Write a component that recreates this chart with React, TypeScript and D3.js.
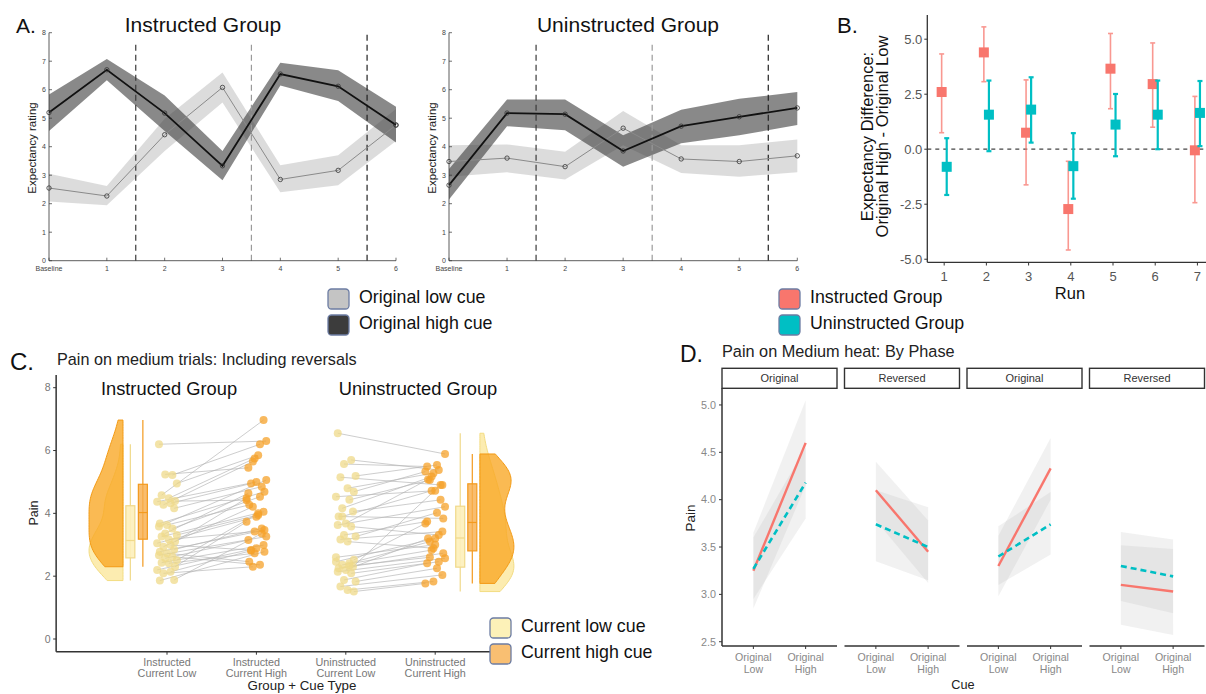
import React from "react";
import * as d3 from "d3";

const FONT = "'Liberation Sans', Arial, Helvetica, sans-serif";

// ---------------- Panel A data ----------------
const runLabels = ["Baseline", "1", "2", "3", "4", "5", "6"];
const aTicks = [0, 1, 2, 3, 4, 5, 6, 7, 8];
const dividerRuns = [1.5, 3.5, 5.5];
const dividerTops = [7.65, 7.65, 8];
const dividerColors = ["#3a3a3a", "#9a9a9a", "#222222"];

const instrHigh = [5.2, 6.7, 5.18, 3.33, 6.55, 6.12, 4.76];
const instrHighLo = [4.55, 6.33, 4.55, 2.82, 6.15, 5.6, 4.15];
const instrHighHi = [5.83, 7.08, 5.8, 3.85, 6.95, 6.68, 5.4];
const instrLow = [2.55, 2.27, 4.42, 6.08, 2.85, 3.17, 4.76];
const instrLowLo = [2.08, 1.95, 3.85, 5.55, 2.4, 2.65, 4.2];
const instrLowHi = [3.05, 2.62, 4.98, 6.6, 3.35, 3.7, 5.32];

const uninstrHigh = [2.65, 5.18, 5.14, 3.85, 4.72, 5.05, 5.36];
const uninstrHighLo = [2.15, 4.72, 4.58, 3.3, 4.12, 4.4, 4.76];
const uninstrHighHi = [3.22, 5.66, 5.66, 4.4, 5.3, 5.68, 5.92];
const uninstrLow = [3.48, 3.6, 3.3, 4.65, 3.57, 3.48, 3.68];
const uninstrLowLo = [2.95, 3.1, 2.85, 4.05, 3.08, 2.95, 3.1];
const uninstrLowHi = [4.05, 4.08, 3.82, 5.25, 4.05, 4.05, 4.25];

// ---------------- Panel B data ----------------
const runs = [1, 2, 3, 4, 5, 6, 7];
const bTicks = [-5, -2.5, 0, 2.5, 5];
const bInstr = [2.6, 4.4, 0.75, -2.72, 3.66, 2.96, -0.05];
const bInstrLo = [0.75, 3.07, -1.62, -4.58, 1.84, 1.0, -2.43];
const bInstrHi = [4.33, 5.56, 3.15, -0.55, 5.26, 4.83, 2.4];
const bUninstr = [-0.8, 1.57, 1.8, -0.77, 1.12, 1.57, 1.65];
const bUninstrLo = [-2.08, -0.09, 0.3, -2.25, -0.32, 0.0, 0.14];
const bUninstrHi = [0.5, 3.12, 3.27, 0.73, 2.51, 3.12, 3.1];

// ---------------- Panel C data ----------------
const cCategories = [
  ["Instructed", "Current Low"],
  ["Instructed", "Current High"],
  ["Uninstructed", "Current Low"],
  ["Uninstructed", "Current High"],
];
const cTicks = [0, 2, 4, 6, 8];
const instrLowPain = [6.2, 5.22, 5.24, 4.95, 4.58, 4.48, 4.39, 4.37, 4.32, 4.27, 4.16, 3.68, 3.63, 3.58, 3.52, 3.36, 3.31, 3.26, 3.17, 3.1, 3.05, 2.99, 2.94, 2.85, 2.78, 2.73, 2.67, 2.62, 2.57, 2.51, 2.43, 2.41, 2.3, 2.2, 2.14, 2.09, 1.88, 1.86];
const instrHighPain = [6.3, 6.2, 5.45, 5.85, 6.97, 5.75, 4.42, 5.0, 4.95, 5.65, 4.85, 4.69, 4.27, 5.06, 4.53, 4.64, 3.95, 4.05, 3.42, 4.48, 3.89, 2.83, 4.21, 3.52, 3.47, 2.46, 3.26, 2.36, 3.15, 4.0, 2.99, 2.73, 3.73, 2.89, 2.81, 2.3, 3.36, 2.78];
const uninstrLowPain = [6.55, 5.7, 5.57, 5.19, 5.15, 4.8, 4.69, 4.53, 4.43, 4.16, 4.06, 3.9, 3.68, 3.63, 3.58, 3.31, 3.26, 3.17, 3.1, 2.52, 2.46, 2.41, 2.36, 2.3, 2.25, 2.2, 2.14, 2.09, 1.88, 1.83, 1.67, 1.56, 1.51, 2.6, 2.33, 3.9];
const uninstrHighPain = [5.89, 5.38, 5.49, 5.54, 4.9, 5.28, 5.33, 4.72, 5.06, 5.17, 4.43, 3.84, 5.08, 4.21, 3.31, 3.74, 4.02, 3.42, 2.89, 3.68, 3.2, 3.1, 2.83, 4.9, 2.73, 3.2, 2.57, 2.46, 2.41, 2.25, 2.04, 1.83, 1.77, 3.0, 2.6, 4.72];
const jitterPattern = [-0.09, 0.06, -0.02, 0.11, -0.06, 0.02, 0.09, -0.11, 0.04, -0.04, 0.08, -0.08, 0.0];

// ---------------- Panel D data ----------------
const phases = ["Original", "Reversed", "Original", "Reversed"];
const cueLevels = [["Original", "Low"], ["Original", "High"]];
const dTicks = [2.5, 3.0, 3.5, 4.0, 4.5, 5.0];
const dInstr = [[3.25, 4.6], [4.1, 3.45], [3.3, 4.33], [3.1, 3.03]];
const dInstrLo = [[2.85, 4.15], [3.78, 3.12], [2.98, 4.0], [2.68, 2.57]];
const dInstrHi = [[3.65, 5.05], [4.4, 3.78], [3.62, 4.65], [3.52, 3.48]];
const dUninstr = [[3.27, 4.18], [3.74, 3.5], [3.4, 3.74], [3.3, 3.19]];
const dUninstrLo = [[2.95, 3.8], [3.35, 3.15], [3.1, 3.42], [2.93, 2.8]];
const dUninstrHi = [[3.6, 4.55], [4.1, 3.92], [3.72, 4.08], [3.66, 3.58]];

const RED = "#F8766D";
const TEAL = "#00BFC4";

// ---------------- helpers ----------------
function kde(values: number[], n = 90) {
  const s = values.slice().sort(d3.ascending);
  const sd = d3.deviation(s) as number;
  const iqr = (d3.quantile(s, 0.75) as number) - (d3.quantile(s, 0.25) as number);
  const bw = 0.9 * Math.min(sd, iqr / 1.34) * Math.pow(s.length, -0.2);
  const lo = s[0], hi = s[s.length - 1];
  return d3.range(n + 1).map((i) => {
    const v = lo + ((hi - lo) * i) / n;
    const d = (d3.mean(s, (x) => Math.exp(-0.5 * ((v - x) / bw) ** 2)) as number) / (bw * Math.sqrt(2 * Math.PI));
    return { v, d };
  });
}

function boxStats(values: number[]) {
  const s = values.slice().sort(d3.ascending);
  const q1 = d3.quantile(s, 0.25) as number;
  const med = d3.quantile(s, 0.5) as number;
  const q3 = d3.quantile(s, 0.75) as number;
  const iqr = q3 - q1;
  const lo = d3.min(s.filter((v) => v >= q1 - 1.5 * iqr)) as number;
  const hi = d3.max(s.filter((v) => v <= q3 + 1.5 * iqr)) as number;
  return { q1, med, q3, lo, hi };
}

// ---------------- Panel A ----------------
function PanelA(props: any) {
  const { x0, x1, title, titleX, yLabelX, high, highLo, highHi, low, lowLo, lowHi } = props;
  const x = d3.scaleLinear().domain([0, runLabels.length - 1]).range([x0, x1]);
  const y = d3.scaleLinear().domain([0, 8]).range([260.7, 32.7]);
  const band = (lo: number[], hi: number[]) =>
    d3.area<number>().x((_, i) => x(i)).y0((_, i) => y(lo[i])).y1((_, i) => y(hi[i]))(lo) as string;
  const line = (v: number[]) => d3.line<number>().x((_, i) => x(i)).y((d) => y(d))(v) as string;
  return (
    <g>
      <text x={titleX} y={32} textAnchor="middle" fontSize={21} fill="#111">{title}</text>
      <text transform={`translate(${yLabelX},${148}) rotate(-90)`} textAnchor="middle" fontSize={11.5} fill="#222">Expectancy rating</text>
      <path d={band(lowLo, lowHi)} fill="#bfbfbf" opacity={0.55} />
      <path d={band(highLo, highHi)} fill="#3a3a3a" opacity={0.6} />
      {dividerRuns.map((r, i) => (
        <line key={i} x1={x(r)} x2={x(r)} y1={y(0)} y2={y(dividerTops[i])} stroke={dividerColors[i]} strokeWidth={1.2} strokeDasharray="6,4" />
      ))}
      <path d={line(low)} fill="none" stroke="#8a8a8a" strokeWidth={1} />
      {low.map((v: number, i: number) => (
        <circle key={"l" + i} cx={x(i)} cy={y(v)} r={2.2} fill="none" stroke="#333" strokeWidth={0.8} />
      ))}
      <path d={line(high)} fill="none" stroke="#111" strokeWidth={1.8} />
      {high.map((v: number, i: number) => (
        <circle key={"h" + i} cx={x(i)} cy={y(v)} r={2.2} fill="none" stroke="#333" strokeWidth={0.8} />
      ))}
      <line x1={x0} x2={x0} y1={y(0)} y2={y(8)} stroke="#333" strokeWidth={0.8} />
      <line x1={x0} x2={x1} y1={y(0)} y2={y(0)} stroke="#333" strokeWidth={0.8} />
      {aTicks.map((t) => (
        <g key={t}>
          <line x1={x0} x2={x0 + 3} y1={y(t)} y2={y(t)} stroke="#333" strokeWidth={0.7} />
          <text x={x0 - 3} y={y(t) + 2.5} textAnchor="end" fontSize={7} fill="#444">{t}</text>
        </g>
      ))}
      {runLabels.map((lab, i) => (
        <g key={lab}>
          <line x1={x(i)} x2={x(i)} y1={y(0)} y2={y(0) - 3} stroke="#333" strokeWidth={0.7} />
          <text x={x(i)} y={271} textAnchor="middle" fontSize={7} fill="#444">{lab}</text>
        </g>
      ))}
    </g>
  );
}

// ---------------- Panel B ----------------
function PanelB() {
  const x = d3.scaleLinear().domain([0.6, 7.4]).range([927.3, 1214.3]);
  const y = d3.scaleLinear().domain([-5.14, 6.1]).range([262.3, 15]);
  const dodge = 0.06;
  const series = [
    { m: bInstr, lo: bInstrLo, hi: bInstrHi, col: RED, off: -dodge, w: 1.6, op: 0.75 },
    { m: bUninstr, lo: bUninstrLo, hi: bUninstrHi, col: TEAL, off: dodge, w: 2.2, op: 1 },
  ];
  return (
    <g>
      <text x={837} y={33} fontSize={22} fill="#111">B.</text>
      <line x1={x(0.6)} x2={1206} y1={y(0)} y2={y(0)} stroke="#444" strokeWidth={1.2} strokeDasharray="4,4" />
      {series.map((s, si) => (
        <g key={si}>
          {runs.map((r, i) => {
            const cx = x(r + s.off);
            return (
              <g key={r}>
                <g stroke={s.col} strokeWidth={s.w} opacity={s.op}>
                  <line x1={cx} x2={cx} y1={y(s.lo[i])} y2={y(s.hi[i])} />
                  <line x1={cx - 2.5} x2={cx + 2.5} y1={y(s.lo[i])} y2={y(s.lo[i])} />
                  <line x1={cx - 2.5} x2={cx + 2.5} y1={y(s.hi[i])} y2={y(s.hi[i])} />
                </g>
                <rect x={cx - 5} y={y(s.m[i]) - 5} width={10} height={10} fill={s.col} />
              </g>
            );
          })}
        </g>
      ))}
      <line x1={x(0.6)} x2={x(0.6)} y1={15} y2={262.3} stroke="#333" strokeWidth={1.3} />
      <line x1={x(0.6)} x2={1206} y1={262.3} y2={262.3} stroke="#333" strokeWidth={1.3} />
      {bTicks.map((t) => (
        <g key={t}>
          <line x1={x(0.6) - 3} x2={x(0.6)} y1={y(t)} y2={y(t)} stroke="#333" strokeWidth={1} />
          <text x={x(0.6) - 5} y={y(t) + 4.5} textAnchor="end" fontSize={13} fill="#555">{t.toFixed(1)}</text>
        </g>
      ))}
      {runs.map((r) => (
        <g key={r}>
          <line x1={x(r)} x2={x(r)} y1={262.3} y2={265.5} stroke="#333" strokeWidth={1} />
          <text x={x(r)} y={281} textAnchor="middle" fontSize={13} fill="#555">{r}</text>
        </g>
      ))}
      <text x={1070} y={299} textAnchor="middle" fontSize={16.5} fill="#111">Run</text>
      <text transform={`translate(873,136.5) rotate(-90)`} textAnchor="middle" fontSize={16.5} fill="#111">Expectancy Difference:</text>
      <text transform={`translate(888,136.5) rotate(-90)`} textAnchor="middle" fontSize={16.5} fill="#111">Original High - Original Low</text>
    </g>
  );
}

// ---------------- Legends ----------------
function LegendItem({ x, y, fill, label }: any) {
  return (
    <g>
      <rect x={x} y={y} width={21} height={20} rx={3.5} fill={fill} stroke="#6c7ca3" strokeWidth={1.3} />
      <text x={x + 31} y={y + 14} fontSize={17.8} fill="#111">{label}</text>
    </g>
  );
}

// ---------------- Panel C ----------------
function PanelC() {
  const x = d3.scaleLinear().domain([1, 4]).range([167, 435.2]);
  const y = d3.scaleLinear().domain([0, 8]).range([639, 387.7]);
  const axisLeft = x(-0.24);
  const axisBottom = 651.7;
  const lowCol = "#EFD98A";
  const highCol = "#F6A12A";
  const groups = [
    { low: instrLowPain, high: instrHighPain, lx: 1, hx: 2, side: -1, flat: 0.508, boxL: 0.59, boxH: 0.73 },
    { low: uninstrLowPain, high: uninstrHighPain, lx: 3, hx: 4, side: 1, flat: 4.5, boxL: 4.28, boxH: 4.415 },
  ];
  const violinPath = (vals: number[], flatX: number, side: number) => {
    const k = kde(vals);
    const maxD = d3.max(k, (d) => d.d) as number;
    const w = d3.scaleLinear().domain([0, maxD]).range([0, 34]);
    return d3.area<any>().curve(d3.curveBasis).y((d) => y(d.v)).x0(flatX).x1((d) => flatX + side * w(d.d))(k) as string;
  };
  const Box = ({ vals, cx, fill, stroke, op }: any) => {
    const b = boxStats(vals);
    return (
      <g stroke={stroke} strokeWidth={1.2}>
        <line x1={cx} x2={cx} y1={y(b.lo)} y2={y(b.hi)} />
        <rect x={cx - 4.5} y={y(b.q3)} width={9} height={y(b.q1) - y(b.q3)} fill={fill} fillOpacity={op} />
        <line x1={cx - 4.5} x2={cx + 4.5} y1={y(b.med)} y2={y(b.med)} />
      </g>
    );
  };
  return (
    <g>
      <text x={10} y={370} fontSize={24} fill="#111">C.</text>
      <text x={57} y={365} fontSize={16.2} fill="#222">Pain on medium trials: Including reversals</text>
      <text x={169} y={395} textAnchor="middle" fontSize={18.3} fill="#111">Instructed Group</text>
      <text x={418} y={395} textAnchor="middle" fontSize={18.3} fill="#111">Uninstructed Group</text>
      {groups.map((g, gi) => (
        <g key={gi}>
          <path d={violinPath(g.low, x(g.flat), g.side)} fill="#FBE9A2" fillOpacity={0.85} stroke="#F3DC82" strokeWidth={1} />
          <path d={violinPath(g.high, x(g.flat), g.side)} fill="#F9A623" fillOpacity={0.78} stroke="#F39A14" strokeWidth={1} />
          <Box vals={g.low} cx={x(g.boxL)} fill="#FDF0BA" stroke="#F0D98A" op={0.9} />
          <Box vals={g.high} cx={x(g.boxH)} fill="#F8AC4A" stroke="#F39A1E" op={0.8} />
          {g.low.map((v, i) => (
            <line key={"c" + i}
              x1={x(g.lx + jitterPattern[i % 13])} y1={y(v)}
              x2={x(g.hx + jitterPattern[(i * 5 + 3) % 13])} y2={y(g.high[i])}
              stroke="#b5b5b5" strokeWidth={0.9} opacity={0.75} />
          ))}
          {g.low.map((v, i) => (
            <circle key={"l" + i} cx={x(g.lx + jitterPattern[i % 13])} cy={y(v)} r={4} fill={lowCol} opacity={0.75} />
          ))}
          {g.high.map((v, i) => (
            <circle key={"h" + i} cx={x(g.hx + jitterPattern[(i * 5 + 3) % 13])} cy={y(v)} r={4} fill={highCol} opacity={0.75} />
          ))}
        </g>
      ))}
      <line x1={axisLeft} x2={axisLeft} y1={375} y2={axisBottom} stroke="#333" strokeWidth={1.5} />
      <line x1={axisLeft} x2={492} y1={axisBottom} y2={axisBottom} stroke="#333" strokeWidth={1.5} />
      {cTicks.map((t) => (
        <g key={t}>
          <line x1={axisLeft - 3} x2={axisLeft} y1={y(t)} y2={y(t)} stroke="#333" strokeWidth={1} />
          <text x={axisLeft - 5.5} y={y(t) + 3.7} textAnchor="end" fontSize={10.5} fill="#777">{t}</text>
        </g>
      ))}
      {cCategories.map((c, i) => (
        <g key={i}>
          <line x1={x(i + 1)} x2={x(i + 1)} y1={axisBottom} y2={axisBottom + 3} stroke="#333" strokeWidth={1} />
          <text x={x(i + 1)} y={665.5} textAnchor="middle" fontSize={10.8} fill="#777">{c[0]}</text>
          <text x={x(i + 1)} y={677} textAnchor="middle" fontSize={10.8} fill="#777">{c[1]}</text>
        </g>
      ))}
      <text transform={`translate(38,513) rotate(-90)`} textAnchor="middle" fontSize={12.5} fill="#222">Pain</text>
      <text x={302} y={690} textAnchor="middle" fontSize={13.3} fill="#222">Group + Cue Type</text>
    </g>
  );
}

// ---------------- Panel D ----------------
function PanelD() {
  const facets = d3.scaleBand<number>().domain(d3.range(phases.length)).range([722, 1204.5]).paddingInner(0.0612);
  const y = d3.scaleLinear().domain([2.455, 5.176]).range([646, 388.3]);
  const stripTop = 368.3;
  const axisBottom = 646;
  return (
    <g>
      <text x={680} y={362} fontSize={23} fill="#111">D.</text>
      <text x={722} y={357} fontSize={16.3} fill="#222">Pain on Medium heat: By Phase</text>
      {phases.map((ph, f) => {
        const fx = facets(f) as number;
        const bw = facets.bandwidth();
        const x = d3.scaleLinear().domain([0.4, 2.6]).range([fx, fx + bw]);
        const ribbon = (lo: number[], hi: number[]) =>
          d3.area<number>().x((_, i) => x(i + 1)).y0((_, i) => y(lo[i])).y1((_, i) => y(hi[i]))(lo) as string;
        const ln = (v: number[]) => d3.line<number>().x((_, i) => x(i + 1)).y((d) => y(d))(v) as string;
        return (
          <g key={f}>
            <path d={ribbon(dInstrLo[f], dInstrHi[f])} fill="#bbbbbb" opacity={0.2} />
            <path d={ribbon(dUninstrLo[f], dUninstrHi[f])} fill="#bbbbbb" opacity={0.2} />
            <path d={ln(dInstr[f])} fill="none" stroke={RED} strokeWidth={2.4} />
            <path d={ln(dUninstr[f])} fill="none" stroke={TEAL} strokeWidth={2.6} strokeDasharray="6,4" />
            <rect x={fx} y={stripTop} width={bw} height={388.3 - stripTop} fill="#fff" stroke="#333" strokeWidth={1.4} />
            <text x={fx + bw / 2} y={382} textAnchor="middle" fontSize={11} fill="#333">{ph}</text>
            <line x1={fx} x2={fx + bw} y1={axisBottom} y2={axisBottom} stroke="#333" strokeWidth={1.5} />
            {cueLevels.map((c, i) => (
              <g key={i}>
                <line x1={x(i + 1)} x2={x(i + 1)} y1={axisBottom} y2={axisBottom + 3} stroke="#333" strokeWidth={1} />
                <text x={x(i + 1)} y={660.5} textAnchor="middle" fontSize={10.6} fill="#888">{c[0]}</text>
                <text x={x(i + 1)} y={673} textAnchor="middle" fontSize={10.6} fill="#888">{c[1]}</text>
              </g>
            ))}
          </g>
        );
      })}
      <line x1={722} x2={722} y1={388.3} y2={axisBottom} stroke="#333" strokeWidth={1.5} />
      {dTicks.map((t) => (
        <g key={t}>
          <line x1={719} x2={722} y1={y(t)} y2={y(t)} stroke="#333" strokeWidth={1} />
          <text x={716} y={y(t) + 3.8} textAnchor="end" fontSize={10.8} fill="#888">{t.toFixed(1)}</text>
        </g>
      ))}
      <text transform={`translate(695,518) rotate(-90)`} textAnchor="middle" fontSize={13.5} fill="#222">Pain</text>
      <text x={963} y={689} textAnchor="middle" fontSize={12.7} fill="#222">Cue</text>
    </g>
  );
}

export default function App() {
  return (
    <svg width={1206} height={694} style={{ position: "absolute", left: 0, top: 0, background: "#fff" }} fontFamily={FONT}>
      <rect width={1206} height={694} fill="#fff" />
      <text x={16} y={33} fontSize={21} fill="#111">A.</text>
      <PanelA x0={49} x1={396} title="Instructed Group" titleX={203} yLabelX={36}
        high={instrHigh} highLo={instrHighLo} highHi={instrHighHi}
        low={instrLow} lowLo={instrLowLo} lowHi={instrLowHi} />
      <PanelA x0={449} x1={797.3} title="Uninstructed Group" titleX={628} yLabelX={436}
        high={uninstrHigh} highLo={uninstrHighLo} highHi={uninstrHighHi}
        low={uninstrLow} lowLo={uninstrLowLo} lowHi={uninstrLowHi} />
      <PanelB />
      <LegendItem x={328} y={289} fill="#c4c4c4" label="Original low cue" />
      <LegendItem x={328} y={315} fill="#3c3c3c" label="Original high cue" />
      <LegendItem x={779} y={289} fill={RED} label="Instructed Group" />
      <LegendItem x={779} y={315} fill={TEAL} label="Uninstructed Group" />
      <PanelC />
      <PanelD />
      <LegendItem x={490} y={618} fill="#FDF1B8" label="Current low cue" />
      <LegendItem x={490} y={644} fill="#F9BF72" label="Current high cue" />
    </svg>
  );
}
